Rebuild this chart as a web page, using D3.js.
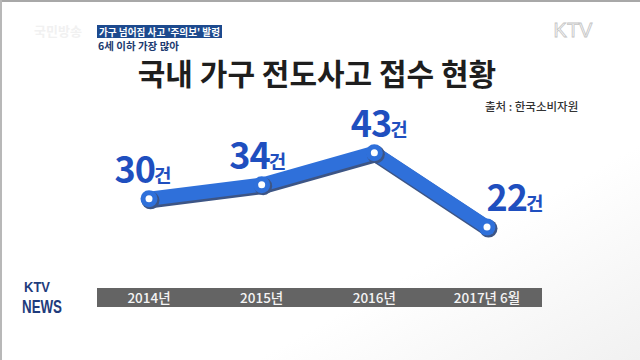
<!DOCTYPE html>
<html>
<head>
<meta charset="utf-8">
<script src="https://cdn.jsdelivr.net/npm/d3@7"></script>
<style>
  body { margin: 0; background: #fff; }
  svg { display: block; font-family: "Noto Sans CJK KR", "Noto Sans", sans-serif; }
</style>
</head>
<body>
<script>
// data
var periods = ["2014년", "2015년", "2016년", "2017년 6월"];
var cases = [30, 34, 43, 22];
var unit = "건";
var title = "국내 가구 전도사고 접수 현황";
var source = "출처 : 한국소비자원";
var headline = "가구 넘어짐 사고 '주의보' 발령";
var subline = "6세 이하 가장 많아";

// label nudges (layout only)
var labelShift = [-6, -4, 5, 28];

let chart = function() {
    let w = 640;
    let h = 360;

    let svg = d3.select("body")
        .append("svg")
        .attr("width", w)
        .attr("height", h);

    // frame + faint background
    let grad = svg.append("defs").append("linearGradient")
        .attr("id", "bg").attr("x1", "0").attr("y1", "0").attr("x2", "1").attr("y2", "1");
    grad.append("stop").attr("offset", "0.7").attr("stop-color", "#ffffff");
    grad.append("stop").attr("offset", "1").attr("stop-color", "#f1f1f1");
    svg.append("rect").attr("width", w).attr("height", h).attr("fill", "url(#bg)");
    svg.append("rect").attr("x", 0).attr("y", 0).attr("width", w).attr("height", 2).attr("fill", "#a8a8a8");
    svg.append("rect").attr("x", 0).attr("y", 0).attr("width", 2).attr("height", h).attr("fill", "#b8b8b8");

    // faint watermark top-left
    svg.append("text").attr("x", 34).attr("y", 36).text("국민방송")
        .attr("font-size", "13px").attr("font-weight", 700).attr("fill", "#f1f1f1");

    // headline box
    svg.append("rect").attr("x", 97).attr("y", 25).attr("width", 125).attr("height", 13).attr("fill", "#1d4a8e");
    svg.append("text").attr("x", 99).attr("y", 35.5).text(headline)
        .attr("font-size", "10px").attr("font-weight", 700).attr("fill", "#fff")
        .attr("textLength", 121).attr("lengthAdjust", "spacingAndGlyphs");
    svg.append("text").attr("x", 98).attr("y", 49.5).text(subline)
        .attr("font-size", "10.5px").attr("font-weight", 700).attr("fill", "#1b3a70");

    // KTV logo top-right
    svg.append("text").attr("x", 573).attr("y", 37).attr("text-anchor", "middle").text("KTV")
        .attr("font-family", "Liberation Sans, Arial, sans-serif")
        .attr("font-size", "20px").attr("fill", "#fafafa").attr("stroke", "#c4c4c4").attr("stroke-width", 0.8);

    // title + source
    svg.append("text").attr("x", 317).attr("y", 85).attr("text-anchor", "middle").text(title)
        .attr("font-size", "30px").attr("font-weight", 700).attr("fill", "#1e1e1e");
    svg.append("text").attr("x", 485).attr("y", 111).text(source)
        .attr("font-size", "11.5px").attr("font-weight", 500).attr("fill", "#333");

    // scales
    let x = d3.scalePoint().domain(periods).range([149, 487]);
    let y = d3.scaleLinear().domain([0, 50]).range([305, 128]);

    let pts = periods.map(function(p, i) { return [x(p), y(cases[i])]; });
    let line = d3.line();

    // shadow + line
    svg.append("path").attr("d", line(pts.map(function(d) { return [d[0] + 1.5, d[1] + 2]; })))
        .attr("fill", "none").attr("stroke", "#3d5585").attr("stroke-width", 15)
        .attr("stroke-linejoin", "round").attr("stroke-linecap", "round");
    svg.append("path").attr("d", line(pts))
        .attr("fill", "none").attr("stroke", "#2f70da").attr("stroke-width", 14)
        .attr("stroke-linejoin", "round").attr("stroke-linecap", "round");

    // markers
    svg.selectAll("circle.shadow")
        .data(pts).enter().append("circle").attr("class", "shadow")
        .attr("cx", function(d) { return d[0] + 1.5; })
        .attr("cy", function(d) { return d[1] + 1.5; })
        .attr("r", 9).attr("fill", "#3d5585");
    svg.selectAll("circle.dot")
        .data(pts).enter().append("circle").attr("class", "dot")
        .attr("cx", function(d) { return d[0]; })
        .attr("cy", function(d) { return d[1]; })
        .attr("r", 8.5).attr("fill", "#2f70da");
    svg.selectAll("circle.hole")
        .data(pts).enter().append("circle").attr("class", "hole")
        .attr("cx", function(d) { return d[0]; })
        .attr("cy", function(d) { return d[1]; })
        .attr("r", 3.5).attr("fill", "#fff");

    // value labels
    let labels = svg.selectAll("text.value")
        .data(cases).enter().append("text").attr("class", "value")
        .attr("x", function(d, i) { return x(periods[i]) + labelShift[i]; })
        .attr("y", function(d) { return y(d) - 16; })
        .attr("text-anchor", "middle")
        .attr("fill", "#1f4fbf")
        .attr("font-weight", 700);
    labels.append("tspan").text(function(d) { return d; }).attr("font-size", "36px").attr("letter-spacing", "-1px");
    labels.append("tspan").text(unit).attr("font-size", "19px").attr("dx", -1);

    // category bar
    svg.append("rect")
        .attr("x", x(periods[0]) - 52).attr("y", 288)
        .attr("width", x(periods[periods.length - 1]) - x(periods[0]) + 107)
        .attr("height", 19).attr("fill", "#646464");
    svg.selectAll("text.cat")
        .data(periods).enter().append("text").attr("class", "cat")
        .attr("x", function(d) { return x(d); })
        .attr("y", 303)
        .attr("text-anchor", "middle")
        .text(function(d) { return d; })
        .attr("font-size", "13.5px").attr("font-weight", 500).attr("fill", "#f4f4f4");

    // KTV NEWS logo
    svg.append("text").attr("x", 37).attr("y", 292).attr("text-anchor", "middle").text("KTV")
        .attr("font-family", "Liberation Sans, Arial, sans-serif").attr("font-weight", 700)
        .attr("font-size", "14px").attr("fill", "#1f3c7c")
        .attr("textLength", 26).attr("lengthAdjust", "spacingAndGlyphs");
    svg.append("text").attr("x", 42).attr("y", 313).attr("text-anchor", "middle").text("NEWS")
        .attr("font-family", "Liberation Sans, Arial, sans-serif").attr("font-weight", 700)
        .attr("font-size", "18px").attr("fill", "#1f3c7c")
        .attr("textLength", 40).attr("lengthAdjust", "spacingAndGlyphs");
}

chart();
</script>
</body>
</html>
